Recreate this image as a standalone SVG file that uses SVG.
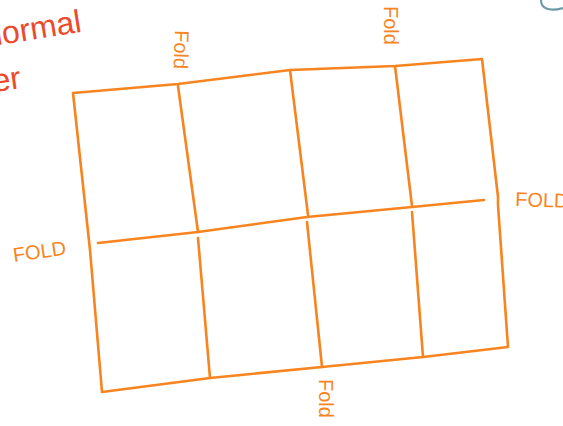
<svg xmlns="http://www.w3.org/2000/svg" width="563" height="426" viewBox="0 0 563 426">
<style>
.ln{fill:none;stroke:#f8841f;stroke-width:2.6;stroke-linecap:round;stroke-linejoin:round}
.lbl{font-family:"Liberation Sans",Arial,sans-serif;fill:#f8841f;font-size:20px}
.red{font-family:"Liberation Sans",Arial,sans-serif;fill:#ec4a2c;font-size:32px}
</style>
<rect width="563" height="426" fill="#ffffff"/>
<g id="title">
<text class="red" transform="translate(-14,47) rotate(-9)">normal</text>
<text class="red" transform="translate(-6,92) rotate(-8)">er</text>
</g>
<path d="M541,0 C541,8 548,12 563,8" fill="none" stroke="#6b9aa6" stroke-width="2.2"/>
<g id="sheet">
<path class="ln" d="M73,93 L178,84 L290,70 L395,66 L482,59 L498,197 L498,205 L508,347 L423,357 L322,367 L210,378 L102,392 L90,250 Z"/>
</g>
<g id="connectors">
<path class="ln" d="M98,243 L198,232 L307,217 L412,207 L484,200"/>
<path class="ln" d="M178,86 L198,232"/>
<path class="ln" d="M198,238 L210,378"/>
<path class="ln" d="M290,70 L308,215"/>
<path class="ln" d="M307,222 L322,367"/>
<path class="ln" d="M395,66 L412,206"/>
<path class="ln" d="M412,212 L423,357"/>
</g>
<g id="labels">
<text class="lbl" transform="translate(175,30) rotate(92)">Fold</text>
<text class="lbl" transform="translate(384,6) rotate(90)">Fold</text>
<text class="lbl" transform="translate(14,262) rotate(-8)">FOLD</text>
<text class="lbl" transform="translate(515,206) rotate(2)">FOLD</text>
<text class="lbl" transform="translate(319,379) rotate(90)">Fold</text>
</g>
</svg>
